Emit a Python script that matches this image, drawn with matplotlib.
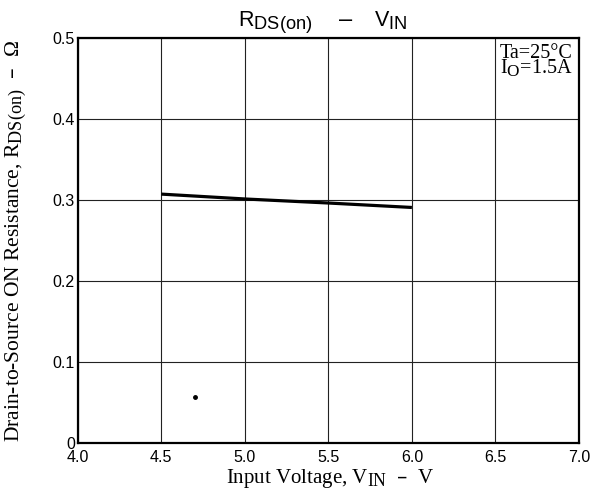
import matplotlib
matplotlib.use("Agg")
import matplotlib.pyplot as plt
import matplotlib._mathtext as mt

# subscripts in the datasheet are only a bit smaller than the main text
mt.SHRINK_FACTOR = 0.85

# curve data
v_in = [4.5, 5.0, 5.5, 6.0]
r_ds = [0.3075, 0.3015, 0.2965, 0.291]

# stray dot in the scan
dot_x = [4.7]
dot_y = [0.057]

x_ticks = [4.0, 4.5, 5.0, 5.5, 6.0, 6.5, 7.0]
x_labels = ["4.0", "4.5", "5.0", "5.5", "6.0", "6.5", "7.0"]
y_ticks = [0, 0.1, 0.2, 0.3, 0.4, 0.5]
y_labels = ["0", "0.1", "0.2", "0.3", "0.4", "0.5"]

sans = "Liberation Sans"
serif = "Liberation Serif"

W, H = 591, 494
fig = plt.figure(figsize=(W / 100, H / 100), dpi=100)
ax = fig.add_axes([77.7 / W, 1 - 443 / H, (579 - 77.7) / W, (443 - 38.3) / H])

ax.plot(v_in, r_ds, color="black", linewidth=2.3, solid_capstyle="butt")
ax.plot(dot_x, dot_y, "o", color="black", markersize=2.5)

ax.set_xlim(4.0, 7.0)
ax.set_ylim(0, 0.5)
ax.set_xticks(x_ticks)
ax.set_xticklabels(x_labels, fontfamily=sans, fontsize=11.5)
ax.set_yticks(y_ticks)
ax.set_yticklabels(y_labels, fontfamily=sans, fontsize=11.5)
ax.tick_params(axis="x", length=0, pad=5)
ax.tick_params(axis="y", length=0, pad=2)
ax.grid(True, color="#222222", linewidth=0.8)

for s in ax.spines.values():
    s.set_linewidth(1.6)

# title in three pieces, spaced like the datasheet
title_y = 1 - 26.7 / H
fig.text(275.5 / W, title_y, r"$\mathregular{R_{DS(on)}}$",
         fontfamily=sans, fontsize=15.5, ha="center", va="baseline")
fig.text(345.5 / W, title_y + 1 / H, "–",
         fontfamily=sans, fontsize=17, ha="center", va="baseline")
fig.text(391 / W, title_y, r"$\mathregular{V_{IN}}$",
         fontfamily=sans, fontsize=15.5, ha="center", va="baseline")

fig.text(330 / W, 1 - 483 / H,
         r"Input Voltage, $\mathregular{V_{IN}}$  –  V",
         fontfamily=serif, fontsize=15, ha="center", va="baseline")
fig.text(16 / W, 1 - 241 / H,
         r"Drain-to-Source ON Resistance, $\mathregular{R_{DS(on)}}$  –  Ω",
         fontfamily=serif, fontsize=15.5, ha="center", va="center", rotation=90)

fig.text(500 / W, 1 - 58 / H, "Ta=25°C",
         fontfamily=serif, fontsize=14.5, ha="left", va="baseline")
fig.text(500 / W, 1 - 73 / H, r"$\mathregular{I_O}$=1.5A",
         fontfamily=serif, fontsize=14.5, ha="left", va="baseline")

fig.savefig("out.png", dpi=100)
